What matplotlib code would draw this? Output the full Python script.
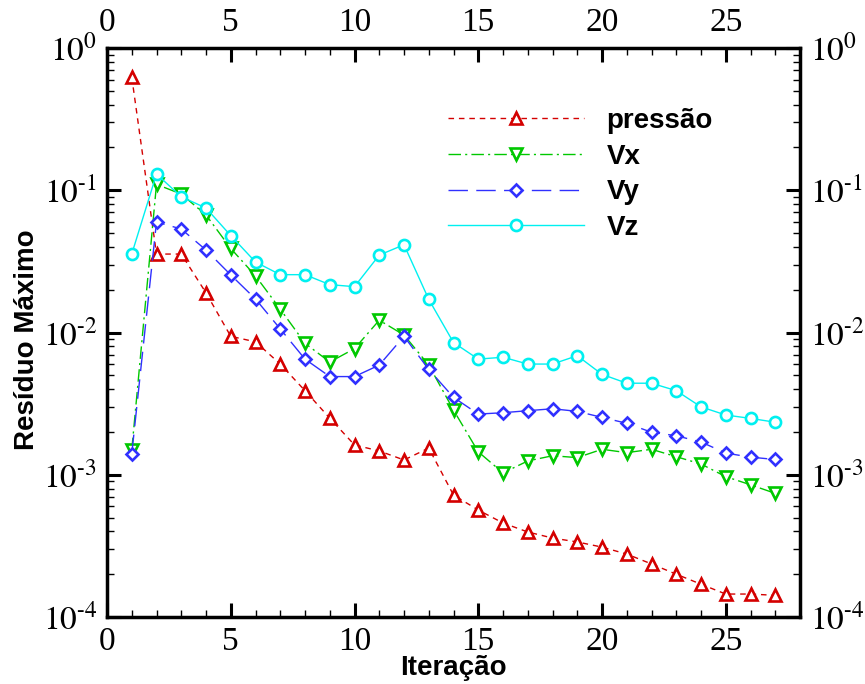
import math
import matplotlib
matplotlib.use("Agg")
import matplotlib.pyplot as plt
from matplotlib.ticker import FixedLocator, FuncFormatter, LogLocator, NullFormatter

plt.rcParams['mathtext.fontset'] = 'stix'

iteracoes = list(range(1, 28))
pressao = [0.625, 0.0356, 0.0356, 0.019, 0.0094, 0.0086, 0.0060, 0.0039, 0.0025, 0.00162,
           0.00147, 0.00127, 0.00154, 0.00072, 0.000565, 0.000458, 0.000396, 0.000359,
           0.000337, 0.00031, 0.000277, 0.000236, 0.0002, 0.00017, 0.000145, 0.000145, 0.000142]
vx = [0.00149, 0.11, 0.094, 0.067, 0.039, 0.025, 0.0146, 0.0084, 0.0062, 0.0077,
      0.0122, 0.0096, 0.0059, 0.00285, 0.00145, 0.00103, 0.00125, 0.00136, 0.00132,
      0.00151, 0.00143, 0.00151, 0.00134, 0.00119, 0.00097, 0.00085, 0.00074]
vy = [0.00140, 0.0598, 0.0534, 0.038, 0.0254, 0.0172, 0.0106, 0.0065, 0.0049, 0.0049,
      0.0059, 0.0094, 0.0055, 0.0035, 0.00267, 0.00273, 0.00282, 0.00291, 0.00279,
      0.00253, 0.0023, 0.00199, 0.00188, 0.0017, 0.00142, 0.00133, 0.00128]
vz = [0.0356, 0.13, 0.090, 0.075, 0.048, 0.0313, 0.0255, 0.0255, 0.0217, 0.0210,
      0.035, 0.0414, 0.0171, 0.0085, 0.0065, 0.0067, 0.0060, 0.0060, 0.00687,
      0.00508, 0.0044, 0.0044, 0.0039, 0.0030, 0.00263, 0.00249, 0.00234]

labels = ['pressão', 'Vx', 'Vy', 'Vz']
x_ticks = [0, 5, 10, 15, 20, 25]
y_ticks = [1e-4, 1e-3, 1e-2, 1e-1, 1e0]

fig = plt.figure(figsize=(8.65, 6.84), dpi=100)
ax = fig.add_axes([107/865, 1-617/684, (800-107)/865, (617-48)/684])

styles = [
    dict(color='#d40000', marker='^', dashes=(4, 3.5)),
    dict(color='#00c800', marker='v', dashes=(9, 3, 1.5, 3)),
    dict(color='#3030ff', marker='D', dashes=(14, 6)),
    dict(color='#00f0f0', marker='o', dashes=()),
]
series = [pressao, vx, vy, vz]
for s, lab, st in zip(series, labels, styles):
    ms = 6.5 if st['marker'] == 'D' else 8
    line, = ax.plot(iteracoes, s, color=st['color'], marker=st['marker'], markersize=ms,
                    markerfacecolor='white', markeredgecolor=st['color'], markeredgewidth=1.9,
                    linewidth=1.0, label=lab)
    if st['dashes']:
        line.set_dashes(st['dashes'])

ax.set_yscale('log')
ax.set_xlim(0, 28)
ax.set_ylim(1e-4, 1e0)

ax.xaxis.set_major_locator(FixedLocator(x_ticks))
ax.xaxis.set_minor_locator(FixedLocator(range(0, 29)))
ax.yaxis.set_major_locator(FixedLocator(y_ticks))
ax.yaxis.set_minor_locator(LogLocator(base=10, subs=range(2, 10)))
ax.yaxis.set_minor_formatter(NullFormatter())


def yfmt(v, pos):
    e = int(round(math.log10(v)))
    if e < 0:
        return r'$10^{\text{-}%d}$' % (-e)
    return r'$10^{%d}$' % e


ax.yaxis.set_major_formatter(FuncFormatter(yfmt))
ax.xaxis.set_major_formatter(FuncFormatter(lambda v, p: '%d' % v))

ax.tick_params(which='both', direction='in', top=True, right=True,
               labeltop=True, labelright=True)
ax.tick_params(which='major', length=10, width=2.2, labelsize=24, pad=7,
               labelfontfamily='Liberation Serif')
ax.tick_params(which='minor', length=5, width=1.0)

for sp in ax.spines.values():
    sp.set_linewidth(2.5)

ax.set_xlabel('Iteração', fontsize=20, fontweight='bold', family='Liberation Sans')
ax.xaxis.set_label_coords(0.5, -0.067)
ax.set_ylabel('Resíduo Máximo', fontsize=20, fontweight='bold', family='Liberation Sans')
ax.yaxis.set_label_coords(-0.097, 0.487)

leg = ax.legend(loc='upper left', bbox_to_anchor=((448-107)/693, 1-(108-48)/569),
                frameon=False, numpoints=1, handlelength=4.9, handletextpad=0.8,
                labelspacing=0.35, borderpad=0, borderaxespad=0,
                prop={'family': 'Liberation Sans', 'weight': 'bold', 'size': 20})

fig.savefig('out.png', dpi=100)
